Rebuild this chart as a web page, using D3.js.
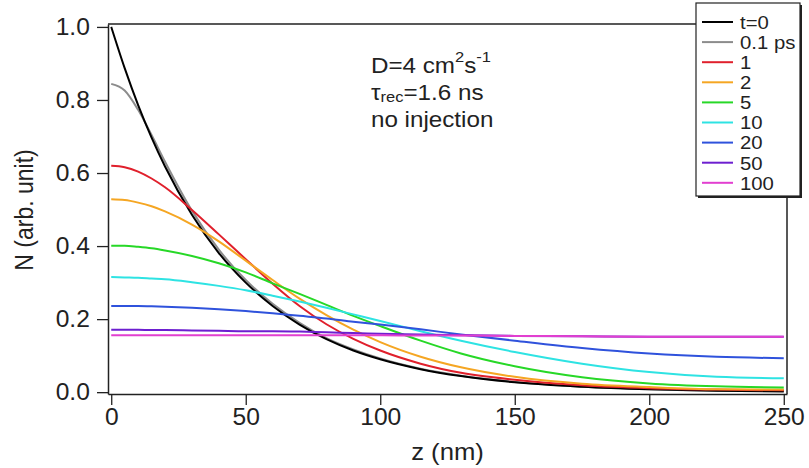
<!DOCTYPE html>
<html>
<head>
<meta charset="utf-8">
<script src="https://cdn.jsdelivr.net/npm/d3@7"></script>
<style>
  body { margin: 0; background: #fff; }
  text { font-family: "Liberation Sans", Arial, sans-serif; fill: #222; }
</style>
</head>
<body>
<div id="chart"></div>
<script>
// depth grid (nm) shared by every trace
const zNm = [0, 5, 10, 15, 20, 30, 40, 50, 60, 70, 80, 90, 100, 115, 130, 150, 175, 200, 225, 250];

// carrier density N (arb. unit)
const nT0    = [1.000, 0.887, 0.786, 0.697, 0.618, 0.486, 0.381, 0.300, 0.236, 0.185, 0.145, 0.114, 0.090, 0.063, 0.044, 0.027, 0.015, 0.008, 0.004, 0.002];
const n01ps  = [0.844, 0.826, 0.773, 0.704, 0.631, 0.497, 0.390, 0.307, 0.242, 0.190, 0.148, 0.117, 0.092, 0.064, 0.045, 0.028, 0.015, 0.008, 0.004, 0.003];
const n1ps   = [0.620, 0.616, 0.604, 0.585, 0.561, 0.499, 0.432, 0.364, 0.297, 0.236, 0.186, 0.146, 0.114, 0.078, 0.053, 0.034, 0.019, 0.011, 0.007, 0.005];
const n2ps   = [0.528, 0.526, 0.519, 0.509, 0.495, 0.459, 0.413, 0.360, 0.307, 0.256, 0.211, 0.171, 0.137, 0.097, 0.068, 0.042, 0.023, 0.014, 0.008, 0.007];
const n5ps   = [0.401, 0.401, 0.398, 0.394, 0.388, 0.373, 0.353, 0.328, 0.298, 0.269, 0.239, 0.209, 0.181, 0.141, 0.106, 0.071, 0.041, 0.024, 0.016, 0.013];
const n10ps  = [0.315, 0.314, 0.313, 0.311, 0.309, 0.301, 0.291, 0.279, 0.264, 0.248, 0.231, 0.213, 0.195, 0.167, 0.141, 0.110, 0.078, 0.055, 0.042, 0.038];
const n20ps  = [0.236, 0.236, 0.236, 0.235, 0.234, 0.231, 0.227, 0.222, 0.216, 0.209, 0.202, 0.193, 0.185, 0.172, 0.158, 0.141, 0.121, 0.106, 0.097, 0.093];
const n50ps  = [0.171, 0.171, 0.171, 0.170, 0.170, 0.169, 0.168, 0.167, 0.167, 0.166, 0.164, 0.162, 0.160, 0.158, 0.156, 0.154, 0.153, 0.152, 0.152, 0.152];
const n100ps = [0.156, 0.156, 0.156, 0.156, 0.156, 0.156, 0.156, 0.156, 0.156, 0.156, 0.156, 0.156, 0.156, 0.155, 0.155, 0.154, 0.153, 0.152, 0.152, 0.152];

const legendLabels = ["t=0", "0.1 ps", "1", "2", "5", "10", "20", "50", "100"];
const traceColors = ["#000000", "#8c8c8c", "#e0202c", "#f5a623", "#27d827", "#2ee3e3", "#2f52dc", "#6d1fd0", "#e23fd0"];
const xTicks = [0, 50, 100, 150, 200, 250];
const yTicks = [0.0, 0.2, 0.4, 0.6, 0.8, 1.0];

const traces = [nT0, n01ps, n1ps, n2ps, n5ps, n10ps, n20ps, n50ps, n100ps]
  .map((vals, i) => ({label: legendLabels[i], color: traceColors[i], pts: vals.map((v, j) => [zNm[j], v])}));

const W = 809, H = 468;
const plot = {left: 108, right: 787, top: 24, bottom: 394};
const stretch = 1.07; // the reference lettering is a bit wide

const svg = d3.select("#chart").append("svg")
  .attr("width", W)
  .attr("height", H);

const x = d3.scaleLinear().domain([-1.2, 251.2]).range([plot.left, plot.right]);
const y = d3.scaleLinear().domain([-0.005, 1.008]).range([plot.bottom, plot.top]);

// curves: gray first, t=0 on top of it, then the rest in legend order
const drawOrder = [traces[1], traces[0]].concat(traces.slice(2));

const line = d3.line()
  .x(d => x(d[0]))
  .y(d => y(d[1]))
  .curve(d3.curveMonotoneX);

svg.append("g")
  .selectAll("path")
  .data(drawOrder)
  .join("path")
  .attr("d", d => line(d.pts))
  .attr("fill", "none")
  .attr("stroke", d => d.color)
  .attr("stroke-width", 2);

// frame (top and right sides)
svg.append("path")
  .attr("d", `M${plot.left},${plot.top}H${plot.right}V${plot.bottom}`)
  .attr("fill", "none")
  .attr("stroke", "#222")
  .attr("stroke-width", 1.5);

// axes
const xAxis = svg.append("g")
  .attr("transform", `translate(0,${plot.bottom})`)
  .call(d3.axisBottom(x).tickValues(xTicks).tickSize(11).tickPadding(4).tickSizeOuter(0));

const yAxis = svg.append("g")
  .attr("transform", `translate(${plot.left},0)`)
  .call(d3.axisLeft(y).tickValues(yTicks).tickFormat(d3.format(".1f")).tickSize(11).tickPadding(6).tickSizeOuter(0));

[xAxis, yAxis].forEach(g => {
  g.select(".domain").attr("stroke", "#222").attr("stroke-width", 1.5);
  g.selectAll(".tick line").attr("stroke", "#222").attr("stroke-width", 1.3);
  g.selectAll(".tick text")
    .attr("font-size", 23)
    .attr("font-family", "'Liberation Sans', Arial, sans-serif")
    .attr("fill", "#222")
    .attr("transform", `scale(${stretch},1)`);
});

// axis titles
svg.append("text")
  .attr("transform", `translate(${(plot.left + plot.right) / 2},460) scale(${stretch},1)`)
  .attr("text-anchor", "middle")
  .attr("font-size", 24)
  .text("z (nm)");

svg.append("text")
  .attr("transform", `translate(33,210) rotate(-90) scale(1,${stretch + 0.05})`)
  .attr("text-anchor", "middle")
  .attr("font-size", 23)
  .text("N (arb. unit)");

// annotation
const noteX = 371;
const noteStretch = 1.1;

const l1 = svg.append("text")
  .attr("transform", `translate(${noteX},73) scale(${noteStretch},1)`)
  .attr("font-size", 22);
l1.append("tspan").text("D=4 cm");
l1.append("tspan").attr("font-size", 15).attr("dy", -11).text("2");
l1.append("tspan").attr("dy", 11).text("s");
l1.append("tspan").attr("font-size", 15).attr("dy", -11).text("-1");

const l2 = svg.append("text")
  .attr("transform", `translate(${noteX},100) scale(${noteStretch},1)`)
  .attr("font-size", 22);
l2.append("tspan").text("τ");
l2.append("tspan").attr("font-size", 15).attr("dy", 2).text("rec");
l2.append("tspan").attr("dy", -2).text("=1.6 ns");

svg.append("text")
  .attr("transform", `translate(${noteX},127) scale(${noteStretch},1)`)
  .attr("font-size", 22)
  .text("no injection");

// legend
const leg = svg.append("g");
leg.append("rect")
  .attr("x", 698).attr("y", 5)
  .attr("width", 104).attr("height", 193)
  .attr("fill", "#222");
leg.append("rect")
  .attr("x", 696).attr("y", 3)
  .attr("width", 104).attr("height", 193)
  .attr("fill", "#fff")
  .attr("stroke", "#222")
  .attr("stroke-width", 1.2);

const rows = leg.selectAll(".row")
  .data(traces)
  .join("g")
  .attr("class", "row")
  .attr("transform", (d, i) => `translate(0,${22 + i * 20.1})`);

rows.append("line")
  .attr("x1", 702).attr("x2", 733)
  .attr("stroke", d => d.color)
  .attr("stroke-width", 2);

rows.append("text")
  .attr("transform", `translate(740,0) scale(${stretch},1)`)
  .attr("dy", "0.36em")
  .attr("font-size", 19)
  .text(d => d.label);
</script>
</body>
</html>
